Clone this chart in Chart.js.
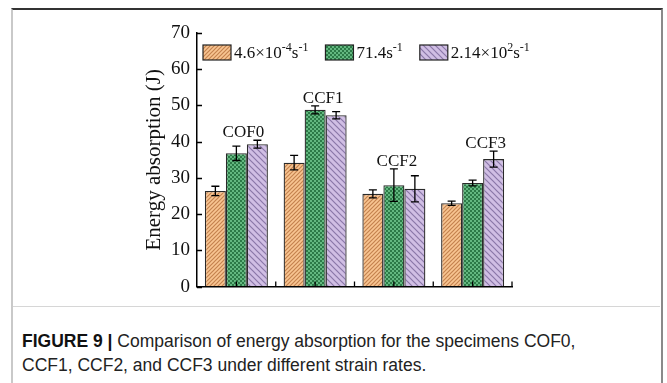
<!DOCTYPE html>
<html>
<head>
<meta charset="utf-8">
<script src="https://cdn.jsdelivr.net/npm/chart.js@4.4.1/dist/chart.umd.min.js"></script>
<style>
  html, body { margin: 0; padding: 0; background: #fff; }
  body { width: 667px; height: 383px; position: relative; overflow: hidden; }
  .card { position: absolute; left: 11px; top: 8px; width: 648px; height: 380px;
          border-left: 2px solid #c9c9c9; border-right: 2px solid #8a8a8a; border-top: 2px solid #333; }
  .sep { position: absolute; left: 13px; top: 306px; width: 647px; height: 1px; background: #d6d6d6; }
  #chart-wrap { position: absolute; left: 0; top: 0; width: 667px; height: 305px; }
  .caption { position: absolute; left: 22px; top: 329px; font-family: "Liberation Sans Narrow", "Arial Narrow", sans-serif;
             font-size: 17.5px; line-height: 24px; color: #222; white-space: nowrap; }
  .caption b { color: #111; }
</style>
</head>
<body>
<div class="card"></div>
<div class="sep"></div>
<div id="chart-wrap"><canvas id="energy-chart" width="667" height="305"></canvas></div>
<div class="caption"><b>FIGURE 9 |</b> Comparison of energy absorption for the specimens COF0,<br>CCF1, CCF2, and CCF3 under different strain rates.</div>

<script>
/* ── Data ── */
const specimens  = ['COF0', 'CCF1', 'CCF2', 'CCF3'];
const rateLabels = ['4.6×10^{-4}s^{-1}', '71.4s^{-1}', '2.14×10^{2}s^{-1}'];

const energySlow = [26.4, 34.2, 25.6, 23.0];
const energyMid  = [36.8, 48.8, 28.0, 28.6];
const energyFast = [39.3, 47.3, 27.0, 35.2];

const errSlow = [1.3, 2.0, 1.1, 0.6];
const errMid  = [2.0, 1.1, 4.5, 0.8];
const errFast = [1.1, 1.0, 3.6, 2.2];

const yTicks = [0, 10, 20, 30, 40, 50, 60, 70];

// small sideways nudges (px) for the specimen names above each group
const labelNudge = [7, 8, 3, 13];

const SERIF = '"Liberation Serif", "Times New Roman", serif';

/* ── Fill patterns ── */
function hatch(bg, fg, size, dir, lw) {
  const c = document.createElement('canvas');
  c.width = c.height = size;
  const g = c.getContext('2d');
  g.fillStyle = bg; g.fillRect(0, 0, size, size);
  g.strokeStyle = fg; g.lineWidth = lw;
  g.beginPath();
  if (dir > 0) {          // "/"
    g.moveTo(0, size); g.lineTo(size, 0);
    g.moveTo(-1, 1); g.lineTo(1, -1);
    g.moveTo(size - 1, size + 1); g.lineTo(size + 1, size - 1);
  } else {                // "\"
    g.moveTo(0, 0); g.lineTo(size, size);
    g.moveTo(-1, size - 1); g.lineTo(1, size + 1);
    g.moveTo(size - 1, -1); g.lineTo(size + 1, 1);
  }
  g.stroke();
  return g.createPattern(c, 'repeat');
}

function checker(light, dark) {
  const c = document.createElement('canvas');
  c.width = c.height = 4;
  const g = c.getContext('2d');
  g.fillStyle = light; g.fillRect(0, 0, 4, 4);
  g.fillStyle = dark;  g.fillRect(0, 0, 2, 2); g.fillRect(2, 2, 2, 2);
  return g.createPattern(c, 'repeat');
}

const fills = [
  hatch('#f8c592', '#c4824f', 4, 1, 1.2),
  checker('#63b880', '#2c7a47'),
  hatch('#d0bee4', '#8a77a8', 6, -1, 1.2)
];

/* ── Plugins ── */
const errorBars = {
  id: 'errorBars',
  afterDatasetsDraw(chart) {
    const { ctx, scales: { y } } = chart;
    ctx.save();
    ctx.strokeStyle = '#000'; ctx.lineWidth = 1.3;
    chart.data.datasets.forEach((ds, i) => {
      chart.getDatasetMeta(i).data.forEach((bar, j) => {
        const v = ds.data[j], e = ds.errors[j];
        const top = y.getPixelForValue(v + e), bot = y.getPixelForValue(v - e);
        const x = bar.x;
        ctx.beginPath();
        ctx.moveTo(x, top); ctx.lineTo(x, bot);
        ctx.moveTo(x - 4, top); ctx.lineTo(x + 4, top);
        ctx.moveTo(x - 4, bot); ctx.lineTo(x + 4, bot);
        ctx.stroke();
      });
    });
    ctx.restore();
  }
};

const groupNames = {
  id: 'groupNames',
  afterDatasetsDraw(chart) {
    const { ctx, scales: { x, y } } = chart;
    const sets = chart.data.datasets;
    ctx.save();
    ctx.font = '17px ' + SERIF;
    ctx.fillStyle = '#111';
    ctx.textAlign = 'center'; ctx.textBaseline = 'alphabetic';
    specimens.forEach((name, j) => {
      const peak = Math.max(...sets.map(ds => ds.data[j] + ds.errors[j]));
      ctx.fillText(name, x.getPixelForValue(j) + labelNudge[j], y.getPixelForValue(peak) - 3);
    });
    ctx.restore();
  }
};

const inwardTicks = {
  id: 'inwardTicks',
  afterDraw(chart) {
    const { ctx, chartArea: a, scales: { x, y } } = chart;
    ctx.save();
    ctx.strokeStyle = '#000'; ctx.lineWidth = 1.3;
    ctx.beginPath();
    y.ticks.forEach(t => {
      const py = Math.round(y.getPixelForValue(t.value)) + 0.5;
      ctx.moveTo(a.left, py); ctx.lineTo(a.left + 5, py);
    });
    specimens.forEach((s, j) => {
      const cx = x.getPixelForValue(j);
      const bx = x.getPixelForValue(j + 0.5);
      ctx.moveTo(cx, a.bottom); ctx.lineTo(cx, a.bottom - 5);
      ctx.moveTo(bx, a.bottom); ctx.lineTo(bx, a.bottom - 5);
    });
    ctx.stroke();
    ctx.restore();
  }
};

// legend with raised exponents, drawn inside the plot area
function parseRate(label) {
  const parts = [];
  label.split(/(\^\{[^}]*\})/).forEach(p => {
    if (!p) return;
    if (p.startsWith('^{')) parts.push({ t: p.slice(2, -1), sup: true });
    else parts.push({ t: p, sup: false });
  });
  return parts;
}

const rateLegend = {
  id: 'rateLegend',
  afterDraw(chart) {
    const { ctx } = chart;
    const boxW = 28, boxH = 15, top = 45;
    let cx = 203;
    ctx.save();
    ctx.textBaseline = 'alphabetic';
    ctx.fillStyle = '#111';
    chart.data.datasets.forEach((ds, i) => {
      ctx.fillStyle = ds.backgroundColor;
      ctx.fillRect(cx, top, boxW, boxH);
      ctx.strokeStyle = '#222'; ctx.lineWidth = 1.2;
      ctx.strokeRect(cx, top, boxW, boxH);
      cx += boxW + 3;
      ctx.fillStyle = '#111';
      parseRate(rateLabels[i]).forEach(p => {
        ctx.font = (p.sup ? '12px ' : '17px ') + SERIF;
        ctx.fillText(p.t, cx, p.sup ? top + 6 : top + 13);
        cx += ctx.measureText(p.t).width;
      });
      cx += 17;
    });
    ctx.restore();
  }
};

/* ── Chart ── */
const ctx = document.getElementById('energy-chart');
new Chart(ctx, {
  type: 'bar',
  data: {
    labels: specimens,
    datasets: [
      { label: rateLabels[0], data: energySlow, errors: errSlow, backgroundColor: fills[0] },
      { label: rateLabels[1], data: energyMid,  errors: errMid,  backgroundColor: fills[1] },
      { label: rateLabels[2], data: energyFast, errors: errFast, backgroundColor: fills[2] }
    ].map(ds => Object.assign(ds, {
      borderColor: '#2a2a2a', borderWidth: 1.3, borderSkipped: 'bottom',
      categoryPercentage: 0.8, barPercentage: 1.0
    }))
  },
  options: {
    responsive: false, animation: false,
    layout: { padding: { left: 100, top: 33, right: 155, bottom: 0 } },
    plugins: { legend: { display: false }, tooltip: { enabled: false } },
    scales: {
      x: {
        ticks: { display: false },
        grid: { display: true, drawOnChartArea: false, drawTicks: false },
        border: { display: true, color: '#000', width: 1.5 },
        afterFit(scale) { scale.height = 16; }
      },
      y: {
        min: 0, max: 70,
        afterBuildTicks(scale) { scale.ticks = yTicks.map(v => ({ value: v })); },
        ticks: { color: '#111', font: { family: SERIF, size: 19 }, padding: 7 },
        grid: { display: true, drawOnChartArea: false, drawTicks: false },
        border: { display: true, color: '#000', width: 1.5 },
        title: { display: true, text: 'Energy absorption (J)', color: '#111',
                 font: { family: SERIF, size: 21 }, padding: { top: 42, bottom: 0 } },
        afterFit(scale) { scale.width = 97; }
      }
    }
  },
  plugins: [errorBars, groupNames, inwardTicks, rateLegend]
});
</script>
</body>
</html>
